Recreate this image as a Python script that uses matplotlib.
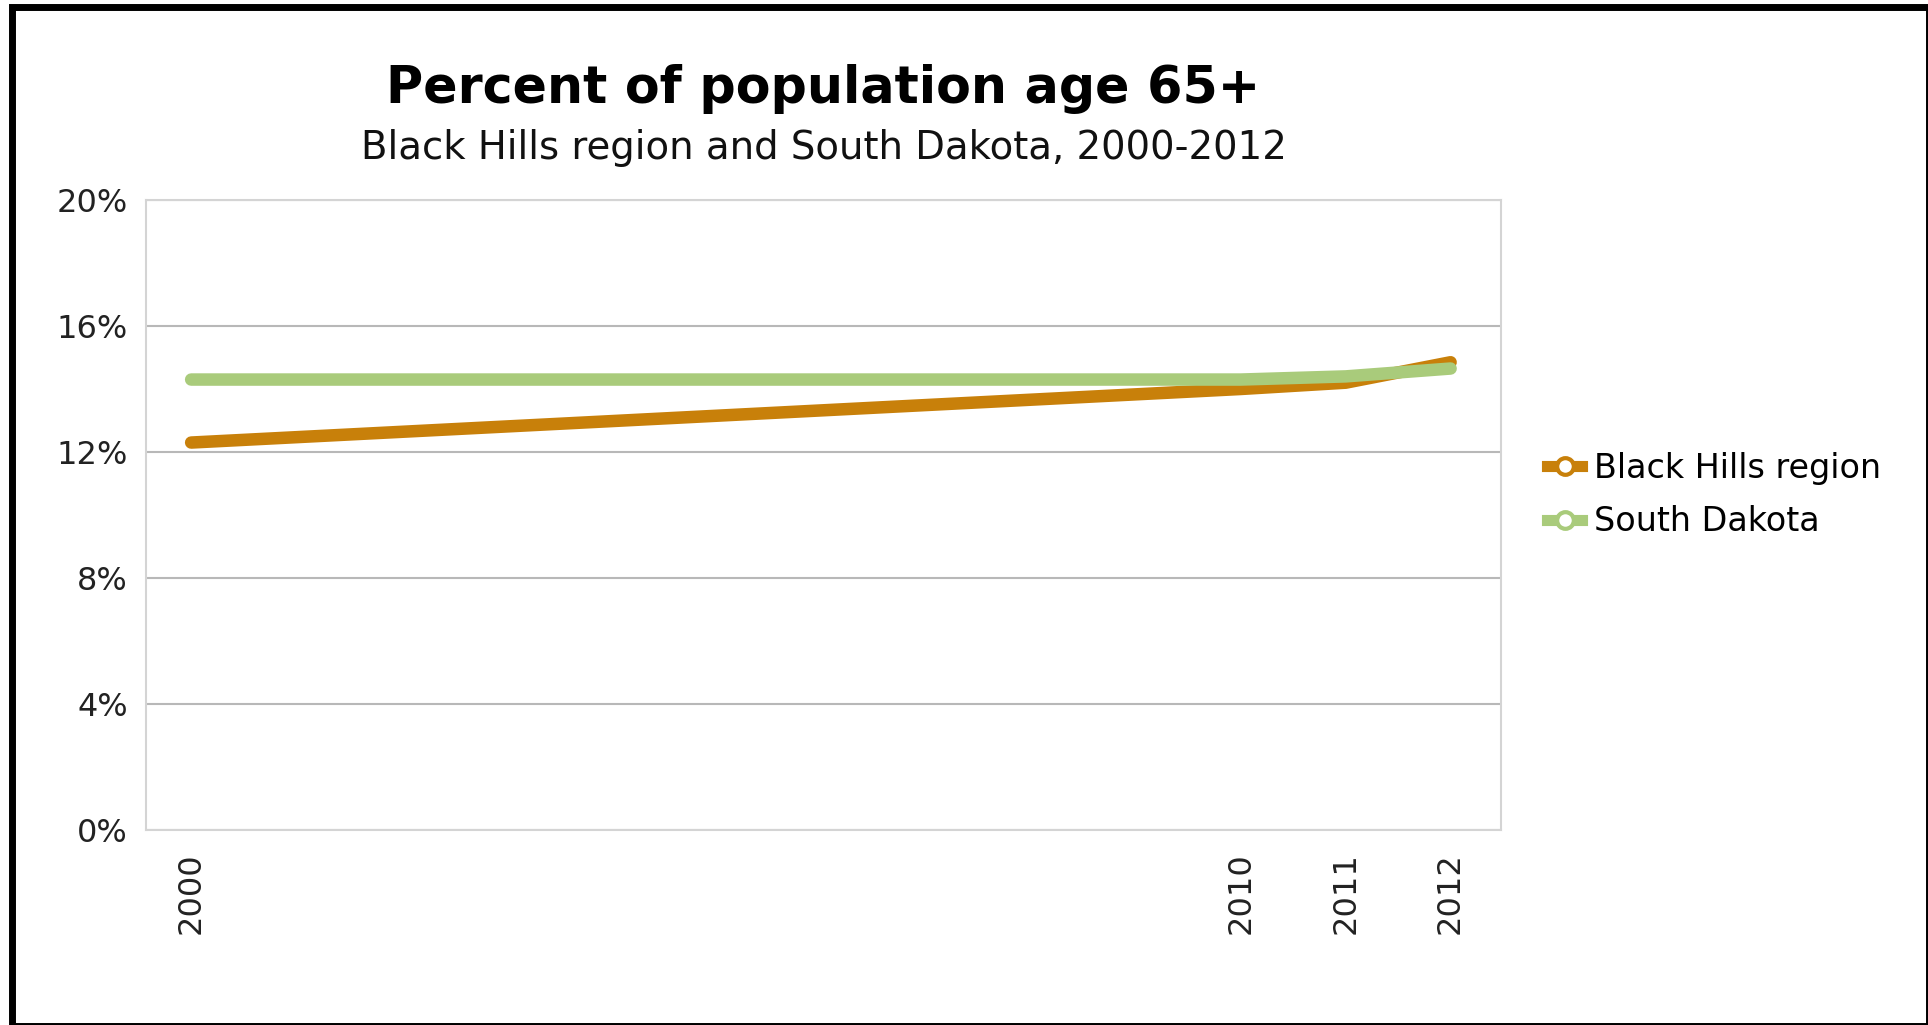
import matplotlib
matplotlib.use("Agg")
import matplotlib.pyplot as plt
from matplotlib.lines import Line2D
from matplotlib.patches import Rectangle
from matplotlib.ticker import FuncFormatter

# ----------------------- Data -----------------------
years = [2000, 2010, 2011, 2012]
black_hills = [12.3, 14.0, 14.2, 14.85]
south_dakota = [14.3, 14.3, 14.4, 14.65]
series_names = ["Black Hills region", "South Dakota"]
y_ticks = [0, 4, 8, 12, 16, 20]

title = "Percent of population age 65+"
subtitle = "Black Hills region and South Dakota, 2000-2012"

orange = "#C8800A"
green = "#A9CB7B"

# ----------------------- Figure -----------------------
W, H = 1928, 1025
fig = plt.figure(figsize=(W / 100, H / 100), dpi=100)
fig.patch.set_facecolor("white")

# black frame around the whole chart
frame = Rectangle((11.5 / W, -0.5 / H), (W - 11.5 + 0.5) / W, (H - 6.5 + 0.5) / H,
                  transform=fig.transFigure, fill=False, edgecolor="black",
                  linewidth=5.0, clip_on=False)
fig.patches.append(frame)

left, right, top, bottom = 146, 1501, 200, 830
ax = fig.add_axes([left / W, 1 - bottom / H, (right - left) / W, (bottom - top) / H])

ax.plot(years, black_hills, color=orange, linewidth=9, solid_capstyle="round",
        solid_joinstyle="round", zorder=3)
ax.plot(years, south_dakota, color=green, linewidth=9, solid_capstyle="round",
        solid_joinstyle="round", zorder=4)

ax.set_xlim(1999.57, 2012.48)
ax.set_ylim(0, 20)
ax.set_yticks(y_ticks)
ax.yaxis.set_major_formatter(FuncFormatter(lambda v, p: f"{v:.0f}%"))
ax.set_xticks(years)
ax.set_xticklabels([str(y) for y in years], rotation=90)

ax.grid(axis="y", color="#b8b8b8", linewidth=1.5)
ax.set_axisbelow(True)
for side in ax.spines.values():
    side.set_color("#d4d4d4")
    side.set_linewidth(1.5)

ax.tick_params(axis="both", length=0, labelsize=23, colors="#222222")
ax.tick_params(axis="y", pad=13)
ax.tick_params(axis="x", pad=16)

# ----------------------- Titles -----------------------
cx = (left + right) / 2 / W
fig.text(cx, 1 - 89 / H, title, ha="center", va="center", fontsize=36.5,
         fontweight="bold", color="black")
fig.text(cx, 1 - 148 / H, subtitle, ha="center", va="center", fontsize=27.8,
         color="#111111")

# ----------------------- Legend -----------------------
handles = [
    Line2D([], [], color=orange, linewidth=8, marker="o", markersize=12,
           markerfacecolor="white", markeredgecolor=orange, markeredgewidth=3),
    Line2D([], [], color=green, linewidth=8, marker="o", markersize=12,
           markerfacecolor="white", markeredgecolor=green, markeredgewidth=3),
]
fig.legend(handles, series_names, loc="center left",
           bbox_to_anchor=(1517 / W, 1 - 495 / H), frameon=False,
           fontsize=24, handlelength=1.05, handletextpad=0.35, labelspacing=0.62)

fig.savefig("out.png", dpi=100, facecolor=fig.get_facecolor())
